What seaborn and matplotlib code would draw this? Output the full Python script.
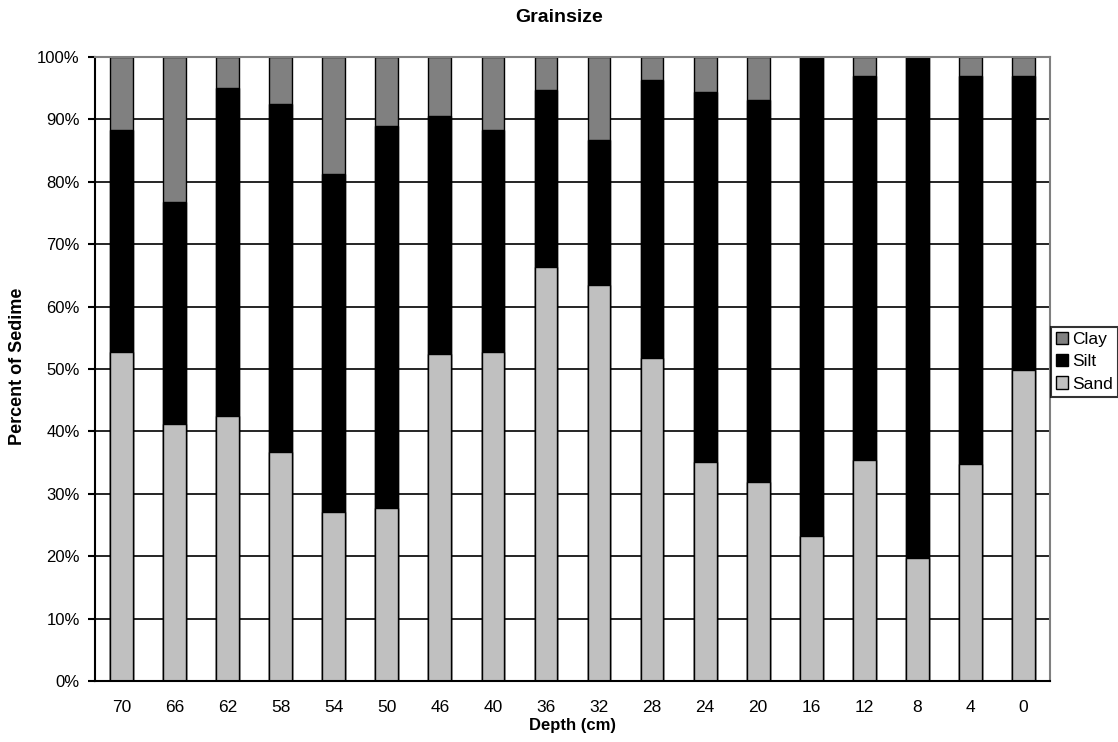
import numpy as np
import pandas as pd
import matplotlib
matplotlib.use("Agg")
import matplotlib.pyplot as plt
import seaborn as sns
from matplotlib.patches import Patch

depths = ["70", "66", "62", "58", "54", "50", "46", "40", "36", "32",
          "28", "24", "20", "16", "12", "8", "4", "0"]
sand = [52.7, 41.2, 42.5, 36.7, 27.1, 27.7, 52.4, 52.8, 66.4, 63.5,
        51.8, 35.1, 31.9, 23.2, 35.4, 19.7, 34.8, 49.9]
silt = [35.6, 35.6, 52.5, 55.8, 54.1, 61.2, 38.1, 35.5, 28.3, 23.2,
        44.5, 59.3, 61.2, 76.8, 61.6, 80.3, 62.2, 47.1]
clay = [11.7, 23.2, 5.0, 7.5, 18.8, 11.1, 9.5, 11.7, 5.3, 13.3,
        3.7, 5.6, 6.9, 0.0, 3.0, 0.0, 3.0, 3.0]
series_names = ["Clay", "Silt", "Sand"]
series_colors = {"Clay": "#808080", "Silt": "#000000", "Sand": "#C0C0C0"}

df = pd.DataFrame({"Depth": depths, "Sand": sand, "Silt": silt, "Clay": clay})
df["SandSilt"] = df["Sand"] + df["Silt"]
df["Total"] = df["SandSilt"] + df["Clay"]

sns.set_style("white")
plt.rcParams["font.family"] = ["Liberation Sans", "DejaVu Sans"]
plt.rcParams["text.color"] = "black"
plt.rcParams["axes.labelcolor"] = "black"
plt.rcParams["xtick.color"] = "black"
plt.rcParams["ytick.color"] = "black"

fig = plt.figure(figsize=(11.18, 7.42), dpi=100)
ax = fig.add_axes([95/1118, 1-681/742, (1050-95)/1118, (681-57)/742])

bw = 0.43
for col, name in [("Total", "Clay"), ("SandSilt", "Silt"), ("Sand", "Sand")]:
    sns.barplot(data=df, x="Depth", y=col, order=depths, color=series_colors[name],
                saturation=1, width=bw, edgecolor="black", linewidth=1.0, ax=ax,
                errorbar=None)

ax.set_xlim(-0.5, len(depths) - 0.5)
ax.set_ylim(0, 100)
ax.set_axisbelow(True)
ax.set_yticks(np.arange(0, 101, 10))
ax.set_yticklabels([f"{v}%" for v in range(0, 101, 10)])
for v in range(10, 100, 10):
    ax.axhline(v, color="black", lw=1.2, zorder=0.5)

ax.set_xticks(range(len(depths)))
ax.set_xticklabels(depths)
ax.set_xticks(np.arange(-0.5, len(depths), 1), minor=True)
ax.tick_params(axis="x", which="major", length=0, pad=14, labelsize=12.5, colors="black")
ax.tick_params(axis="x", which="minor", length=5, width=1.5, direction="out", color="black")
ax.tick_params(axis="y", which="major", length=5, width=1.5, direction="out", pad=6,
               labelsize=12, colors="black", left=True)

for s in ["left", "bottom"]:
    ax.spines[s].set_color("black")
    ax.spines[s].set_linewidth(1.5)
for s in ["top", "right"]:
    ax.spines[s].set_color("#808080")
    ax.spines[s].set_linewidth(1.5)
    ax.spines[s].set_visible(True)

ax.set_xlabel("Depth (cm)", fontsize=12, fontweight="bold", color="black")
ax.xaxis.set_label_coords(0.5, -0.0713)
ax.xaxis.label.set_va("center")
ax.set_ylabel("Percent of Sedime", fontsize=13, fontweight="bold", color="black")
ax.yaxis.set_label_coords(-0.0807, 0.505)
ax.yaxis.label.set_va("center")

fig.text(0.5, 1 - 17/742, "Grainsize", ha="center", va="center",
         fontsize=14, fontweight="bold", color="black")

handles = [Patch(facecolor=series_colors[n], edgecolor="black", linewidth=1.0, label=n)
           for n in series_names]
leg = fig.legend(handles=handles, loc="upper left",
                 bbox_to_anchor=(1051/1118, 1 - 327/742), bbox_transform=fig.transFigure,
                 fontsize=12.5, frameon=True, fancybox=False, handlelength=0.7,
                 handleheight=0.7, handletextpad=0.2, borderpad=0.3,
                 labelspacing=0.4, borderaxespad=0)
leg.get_frame().set_edgecolor("black")
leg.get_frame().set_linewidth(1.5)

fig.savefig("out.png", dpi=100)
